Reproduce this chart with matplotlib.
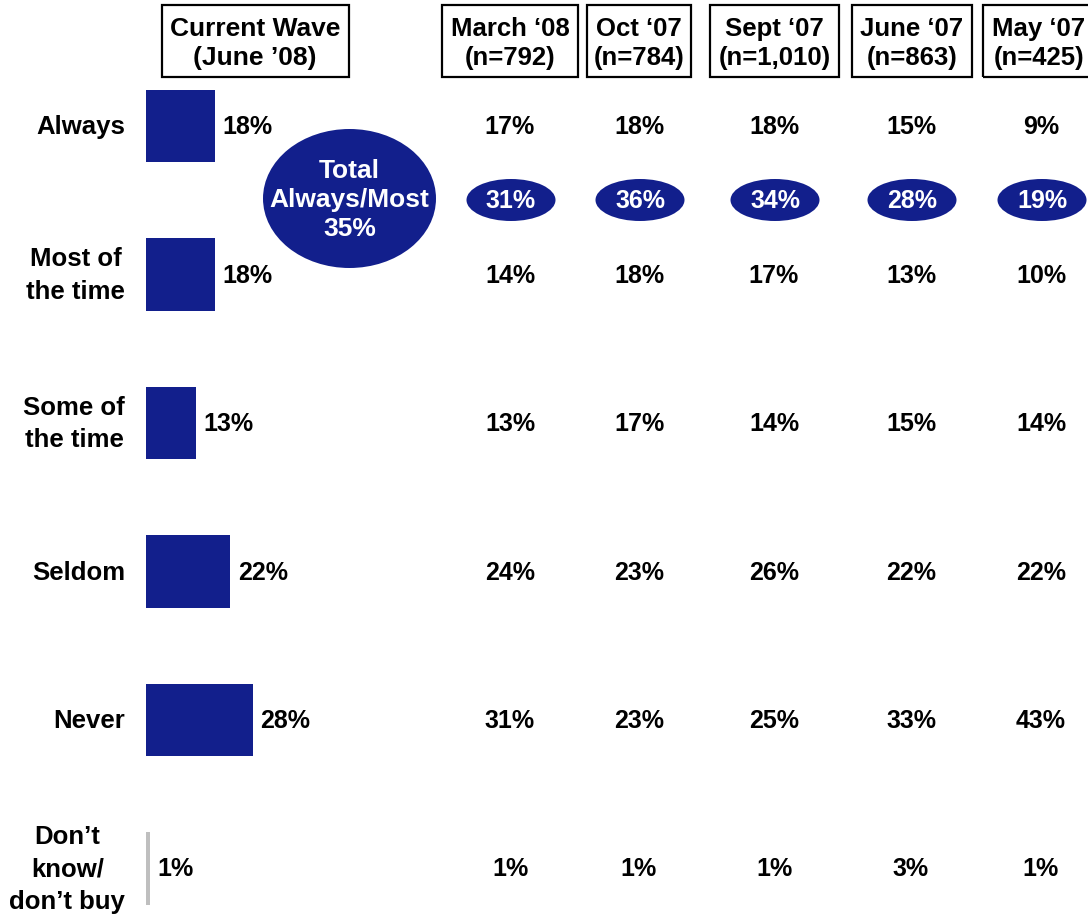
import matplotlib
matplotlib.use("Agg")
import matplotlib.pyplot as plt
from matplotlib.patches import Ellipse, Rectangle
from matplotlib.transforms import blended_transform_factory

# ---- data -------------------------------------------------------------
categories = ["Always", "Most of\nthe time", "Some of\nthe time", "Seldom", "Never",
              "Don\u2019t\nknow/\ndon\u2019t buy"]
current_wave = [18, 18, 13, 22, 28, 1]
current_total = 35

wave_labels = ["March \u201808\n(n=792)", "Oct \u201807\n(n=784)", "Sept \u201807\n(n=1,010)",
               "June \u201807\n(n=863)", "May \u201807\n(n=425)"]
march_08 = [17, 14, 13, 24, 31, 1]
oct_07 = [18, 18, 17, 23, 23, 1]
sept_07 = [18, 17, 14, 26, 25, 1]
june_07 = [15, 13, 15, 22, 33, 3]
may_07 = [9, 10, 14, 22, 43, 1]
wave_totals = [31, 36, 34, 28, 19]

NAVY = "#121F8C"
GREY = "#BFBFBF"
SANS = ["Liberation Sans", "Arial", "DejaVu Sans"]

W, H = 1088, 920
fig = plt.figure(figsize=(W / 100, H / 100), dpi=100)
fig.patch.set_facecolor("white")


def fx(px):
    return px / W


def fy(py):
    return 1 - py / H


# Bar axes: x in percent, y in row index
ax = fig.add_axes([0, 0, 1, 1])
scale = 3.82  # pixels per percent
x0 = 146
ax.set_xlim(-x0 / scale, (W - x0) / scale)
row0, step = 127, 148.5
ax.set_ylim((H - row0) / step, -row0 / step)
ax.axis("off")

rows = list(range(len(categories)))
colors = [NAVY] * (len(categories) - 1) + [GREY]
ax.barh(rows, current_wave, height=0.49, color=colors, left=0)

for r, v in zip(rows, current_wave):
    ax.annotate(f"{v}%", (v, r), xytext=(5.5, 0), textcoords="offset points",
                ha="left", va="center", fontsize=18, fontweight="bold", family=SANS)

# Row labels
for r, lab in zip(rows, categories):
    ax.annotate(lab, (0, r), xytext=(-15, 0), textcoords="offset points",
                ha="right", va="center", multialignment="center",
                fontsize=18.5, fontweight="bold", family=SANS, linespacing=1.45)

# Historical waves
col_x = [510, 639, 774, 911, 1041]
history = [march_08, oct_07, sept_07, june_07, may_07]
fig_x_data_y = blended_transform_factory(fig.transFigure, ax.transData)
for cx, vals in zip(col_x, history):
    for r, v in zip(rows, vals):
        ax.text(fx(cx), r, f"{v}%", transform=fig_x_data_y,
                ha="center", va="center", fontsize=18, fontweight="bold", family=SANS)

# Header boxes
boxes = [(442, 578), (587, 691), (710, 839), (852, 972), (983, 1100)]
text_x = [510, 639, 774.5, 912, 1039]
for (l, r), lab, tx in zip(boxes, wave_labels, text_x):
    fig.patches.append(Rectangle((fx(l), fy(78)), fx(r - l), (78 - 6) / H,
                                 transform=fig.transFigure, fill=False,
                                 edgecolor="black", linewidth=1.6))
    fig.text(fx(tx), fy(43.5), lab, ha="center", va="center", fontsize=18.5,
             fontweight="bold", family=SANS, linespacing=1.25)

fig.patches.append(Rectangle((fx(162), fy(78)), fx(349 - 162), (78 - 6) / H,
                             transform=fig.transFigure, fill=False,
                             edgecolor="black", linewidth=1.6))
fig.text(fx(255), fy(43.5), "Current Wave\n(June \u201908)", ha="center", va="center",
         fontsize=19, fontweight="bold", family=SANS, linespacing=1.22)

# Combined always/most ovals
fig.patches.append(Ellipse((fx(349.5), fy(199.5)), fx(173), 139 / H,
                           transform=fig.transFigure, facecolor=NAVY, edgecolor="none"))
fig.text(fx(349.5), fy(200), f"Total\nAlways/Most\n{current_total}%", ha="center",
         va="center", fontsize=19, fontweight="bold", family=SANS, color="white",
         linespacing=1.25)

for cx, t in zip(col_x, wave_totals):
    fig.patches.append(Ellipse((fx(cx + 1), fy(201)), fx(89), 42 / H,
                               transform=fig.transFigure, facecolor=NAVY, edgecolor="none"))
    fig.text(fx(cx + 1), fy(201), f"{t}%", ha="center", va="center", fontsize=18,
             fontweight="bold", family=SANS, color="white")

fig.savefig("out.png", dpi=100, facecolor="white")
